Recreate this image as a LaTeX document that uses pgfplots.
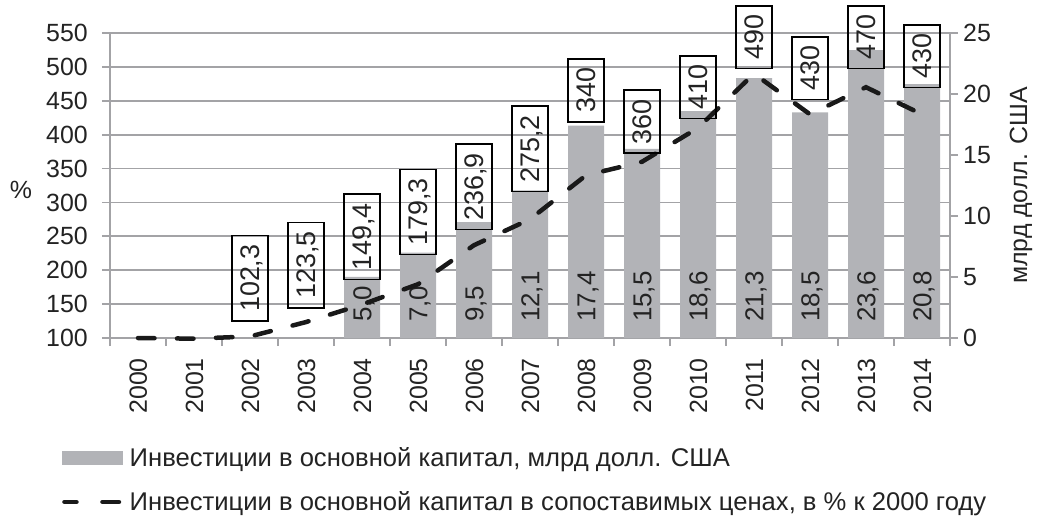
\documentclass[border=0pt]{standalone}
\usepackage{fontspec}
\setmainfont{Liberation Sans}
\usepackage{pgfplots}
\pgfplotsset{compat=1.18}
\usepackage{pgfplotstable}

\definecolor{bargray}{RGB}{178,179,183}
\definecolor{gridgray}{RGB}{163,163,166}
\definecolor{txt}{RGB}{35,35,35}

\newcommand\tfont{\fontsize{25}{30}\selectfont}
\newcommand\bfont{\fontsize{26}{30}\selectfont}
\newcommand\lfont{\fontsize{27}{30}\selectfont}
\newcommand\gfont{\fontsize{25.7}{30}\selectfont}

\pgfplotstableread{
x val
0 100
1 99
2 102.3
3 123.5
4 149.4
5 179.3
6 236.9
7 275.2
8 340
9 360
10 410
11 490
12 430
13 470
14 430
}\linedata

\pgfplotstableread{
x bar lpos lab
4 5.0 1.31 5,0
5 7.0 1.31 7,0
6 9.5 1.31 9,5
7 12.1 1.31 12,1
8 17.4 1.31 17,4
9 15.5 1.31 15,5
10 18.6 1.31 18,6
11 21.3 1.31 21,3
12 18.5 1.31 18,5
13 23.6 1.31 23,6
14 20.8 1.31 20,8
}\bardata

\pgfplotstableread{
x pos lab
2 188.2 102,3
3 207.5 123,5
4 249.3 149,4
5 285.8 179,3
6 323.2 236,9
7 379.0 275,2
8 465.4 340
9 419.3 360
10 469.9 410
11 543.8 490
12 498.0 430
13 543.8 470
14 515.7 430
}\boxdata

\pgfplotsset{
  base/.style={scale only axis, width=840bp, height=305bp, at={(0,0)}, anchor=south west,
    xmin=-0.5, xmax=14.5, clip=false,
    /pgf/number format/assume math mode=true,
    ticklabel style={font=\tfont, text=txt},
    axis line style={gridgray, line width=1.8bp, -},
    tick style={gridgray, line width=1.8bp},
    tick align=outside, major tick length=8bp},
}

\begin{document}
\begin{tikzpicture}
\path[use as bounding box] (-110bp,-187bp) rectangle (932bp,338bp);

% left axis with grid
\begin{axis}[base,
  ymin=100, ymax=550, ytick={100,150,...,550},
  ymajorgrids, grid style={gridgray, line width=1.8bp},
  axis x line*=bottom, axis y line*=left,
  xtick={-0.5,0.5,...,14.5}, xticklabels={},
  major tick length=8bp,
  extra x ticks={0,1,...,14},
  extra x tick labels={2000,2001,2002,2003,2004,2005,2006,2007,2008,2009,2010,2011,2012,2013,2014},
  extra x tick style={major tick length=0pt, grid=none,
    xticklabel style={rotate=90, anchor=east, inner sep=0pt, text height=18bp, text depth=0pt, xshift=-20bp}},
  yticklabel style={inner sep=0pt, xshift=-14bp},
  ylabel={\%},
  ylabel style={rotate=-90, at={(axis description cs:-0.106,0.485)}, anchor=center, font=\tfont, text=txt, inner sep=0pt},
]
\end{axis}

% right axis with bars
\begin{axis}[base,
  ymin=0, ymax=25, ytick={0,5,...,25},
  axis y line*=right, axis x line=none,
  yticklabel style={inner sep=0pt, xshift=5bp},
  ylabel={млрд долл. США},
  ylabel style={at={(axis description cs:1.0845,0.5)}, anchor=center, font=\tfont, text=txt, inner sep=0pt},
]
\addplot[ybar, bar width=36bp, fill=bargray, draw=none] table[x=x, y=bar]{\bardata};
\addplot[only marks, mark=none, nodes near coords, point meta=explicit symbolic,
  every node near coord/.style={rotate=90, anchor=west, font=\bfont, text=txt, inner sep=0pt, text height=18.7bp, text depth=0pt}]
  table[x=x, y=lpos, meta=lab]{\bardata};
\end{axis}

% line, boxes, legend
\begin{axis}[base,
  ymin=100, ymax=550, axis lines=none,
  legend style={at={(axis description cs:-0.0571,-0.351)}, anchor=north west, draw=none, fill=none,
    font=\gfont, text=txt, row sep=20bp, inner sep=0pt,
    /tikz/every odd column/.append style={column sep=5bp}},
  legend cell align=left,
]
\addlegendimage{legend image code/.code={\fill[bargray] (0bp,-6.5bp) rectangle (60bp,6.5bp);}}
\addlegendentry{Инвестиции в основной капитал, млрд долл. США}
\addplot[only marks, mark=none, forget plot, nodes near coords, point meta=explicit symbolic,
  every node near coord/.style={rotate=90, anchor=center, draw=black, fill=none, line width=1.5bp,
    font=\lfont, text=txt, inner xsep=9bp, inner ysep=8.5bp, text height=19.4bp, text depth=0pt}]
  table[x=x, y=pos, meta=lab]{\boxdata};
\addplot[black!90, line width=4.5bp, dash pattern=on 16.5bp off 22.5bp, line cap=round,
  legend image code/.code={\draw[black!90, line width=4.5bp, line cap=round] (2bp,0bp) -- (14bp,0bp) (40bp,0bp) -- (58bp,0bp);}]
  table[x=x, y=val]{\linedata};
\addlegendentry{Инвестиции в основной капитал в сопоставимых ценах, в \% к 2000 году}
\end{axis}
\end{tikzpicture}
\end{document}
